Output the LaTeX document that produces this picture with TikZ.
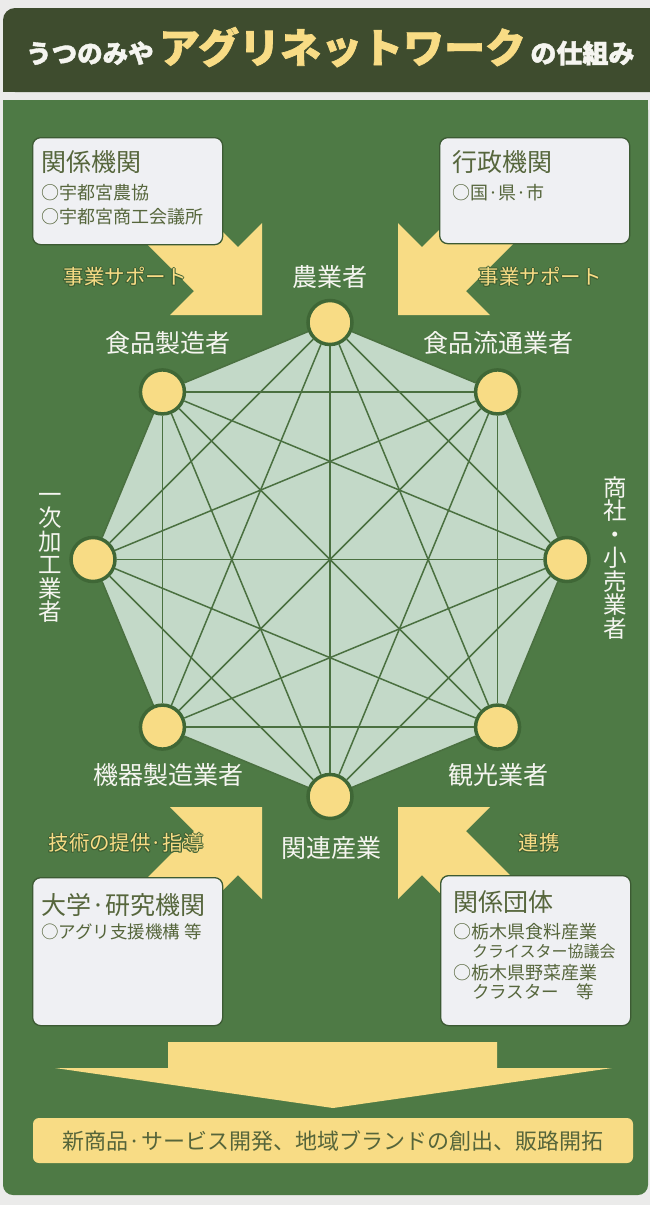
\documentclass[tikz,border=0pt]{standalone}
\usepackage{fontspec}
\setmainfont{Noto Sans CJK JP}
\newfontfamily\heavy{Noto Sans CJK JP}[BoldFeatures={FakeBold=1.6}]
\usetikzlibrary{calc}
\definecolor{pagebg}{HTML}{EBEBEA}
\definecolor{titlebg}{HTML}{3E4C2E}
\definecolor{panel}{HTML}{4E7A45}
\definecolor{yel}{HTML}{F8DC85}
\definecolor{octfill}{HTML}{C3D9C8}
\definecolor{linkc}{HTML}{4A7040}
\definecolor{hubline}{HTML}{3F6736}
\definecolor{boxfill}{HTML}{EFF0F3}
\definecolor{boxline}{HTML}{3C5A33}
\definecolor{boxtext}{HTML}{56663C}
\definecolor{halo}{HTML}{3E6034}
\definecolor{wtext}{HTML}{F5F5F0}
\definecolor{bartext}{HTML}{56653A}
\newcommand\fs[1]{\fontsize{#1}{#1}\selectfont}
\newcommand\haloed[1]{\leavevmode
  \rlap{\textcolor{halo}{\kern1pt#1}}%
  \rlap{\textcolor{halo}{\kern-1pt#1}}%
  \rlap{\textcolor{halo}{\raisebox{1pt}{#1}}}%
  \rlap{\textcolor{halo}{\raisebox{-1pt}{#1}}}%
  \rlap{\textcolor{halo}{\kern0.7pt\raisebox{0.7pt}{#1}}}%
  \rlap{\textcolor{halo}{\kern-0.7pt\raisebox{0.7pt}{#1}}}%
  \rlap{\textcolor{halo}{\kern0.7pt\raisebox{-0.7pt}{#1}}}%
  \rlap{\textcolor{halo}{\kern-0.7pt\raisebox{-0.7pt}{#1}}}%
  \textcolor{yel}{#1}}
\begin{document}
\begin{tikzpicture}[x=1pt,y=-1pt,
  hub/.style={circle, fill=yel, draw=hubline, line width=3.5pt, minimum size=44pt, inner sep=0pt},
  lab/.style={text=wtext, font=\fs{25}, inner sep=0pt},
  vlab/.style={text=wtext, font=\fs{23.5}, inner sep=0pt, align=center},
  infobox/.style={draw=boxline, line width=1.3pt, fill=boxfill, rounded corners=8pt, inner sep=0pt, anchor=north west},
  btitle/.style={text=boxtext, font=\fs{25}, anchor=west, inner sep=0pt},
  bline/.style={text=boxtext, font=\fs{18}, anchor=west, inner sep=0pt},
  arr/.style={fill=yel},
  alab/.style={font=\fs{20.5}, inner sep=0pt},
  link/.style={draw=linkc, line width=1.5pt}]
\useasboundingbox (0,0) rectangle (650,1205);
\fill[pagebg] (0,0) rectangle (650,1205);
% title bar
\fill[titlebg, rounded corners=12pt] (3,8) rectangle (670,92);
\fill[titlebg] (3,40) rectangle (40,92);
\node[anchor=base west, font={\heavy\bfseries\fs{25.5}}, text=wtext, inner sep=0pt] (t1) at (26,63) {うつのみや};
\node[anchor=base west, font={\heavy\bfseries\fs{41}}, text=yel, inner sep=0pt] (t2) at ($(t1.base east)+(5,0)$) {アグリネットワーク};
\node[anchor=base west, font={\heavy\bfseries\fs{26}}, text=wtext, inner sep=0pt] (t3) at ($(t2.base east)+(4,0)$) {の仕組み};
% panel
\fill[panel, rounded corners=10pt] (3,100) rectangle (648,1195);
\fill[panel] (3,100) rectangle (648,130);
% side arrows
\fill[arr] (262,315) -- (262,223) -- (238,247) -- (168,177) -- (124,221) -- (194,291) -- (170,315) -- cycle;
\fill[arr] (398,315) -- (398,223) -- (422,247) -- (492,177) -- (536,221) -- (466,291) -- (490,315) -- cycle;
\fill[arr] (262,807) -- (262,899) -- (238,875) -- (168,945) -- (124,901) -- (194,831) -- (170,807) -- cycle;
\fill[arr] (398,807) -- (398,899) -- (422,875) -- (492,945) -- (536,901) -- (466,831) -- (490,807) -- cycle;
\node[alab] (a1) at (125,277) {\haloed{事業サポート}};
\node[alab] (a2) at (540,277) {\haloed{事業サポート}};
\node[alab] (a3) at (126,843) {\haloed{技術の提供·指導}};
\node[alab] (a4) at (539,843) {\haloed{連携}};
% boxes
\node[infobox, minimum width=190pt, minimum height=107pt] (b1) at (32,137) {};
\node[btitle] (b1t) at (41,162) {関係機関};
\node[bline] (b1a) at (41,193) {○宇都宮農協};
\node[bline] (b1b) at (41,217) {○宇都宮商工会議所};
\node[infobox, minimum width=190pt, minimum height=106pt] (b2) at (439,137) {};
\node[btitle] (b2t) at (452,162) {行政機関};
\node[bline] (b2a) at (452,193) {○国·県·市};
\node[infobox, minimum width=190pt, minimum height=148pt] (b3) at (32,877) {};
\node[btitle] (b3t) at (41,905) {大学·研究機関};
\node[bline, font=\fs{17.5}] (b3a) at (41,932) {○アグリ支援機構 等};
\node[infobox, minimum width=190pt, minimum height=150pt] (b4) at (440,875) {};
\node[btitle] (b4t) at (453,902) {関係団体};
\node[bline] (b4a) at (453,932) {○栃木県食料産業};
\node[bline, font=\fs{16}] (b4b) at (472,951) {クライスター協議会};
\node[bline] (b4c) at (453,973) {○栃木県野菜産業};
\node[bline, font=\fs{17.5}] (b4d) at (472,992) {クラスター　等};
% network
\foreach \i in {0,...,7}{
  \coordinate (p\i) at ({330+237*cos(90+45*\i)},{559.5-237*sin(90+45*\i)});
}
\fill[octfill] (p0) -- (p1) -- (p2) -- (p3) -- (p4) -- (p5) -- (p6) -- (p7) -- cycle;
\foreach \i in {0,...,7}{\node[hub] (n\i) at (p\i) {};}
\foreach \i in {0,...,6}{
  \pgfmathtruncatemacro\s{\i+1}
  \foreach \j in {\s,...,7}{\draw[link] (n\i) -- (n\j);}
}
\node[lab] (l0) at (330,277) {農業者};
\node[lab] (l1) at (168,343) {食品製造者};
\node[vlab] (l2) at (50,558) {一\\次\\加\\工\\業\\者};
\node[lab] (l3) at (168,775) {機器製造業者};
\node[lab] (l4) at (331,848) {関連産業};
\node[lab] (l5) at (498,775) {観光業者};
\node[vlab] (l6) at (615,558) {商\\社\\・\\小\\売\\業\\者};
\node[lab] (l7) at (498,343) {食品流通業者};
% bottom arrow and result
\fill[arr] (168,1042) -- (497,1042) -- (497,1068) -- (612,1068) -- (333,1108) -- (55,1068) -- (168,1068) -- cycle;
\node[fill=yel, rounded corners=6pt, minimum width=600pt, minimum height=45pt, inner sep=0pt, text=bartext, font=\fs{22}] (res) at (333,1140.5) {新商品·サービス開発、地域ブランドの創出、販路開拓};
\end{tikzpicture}
\end{document}
